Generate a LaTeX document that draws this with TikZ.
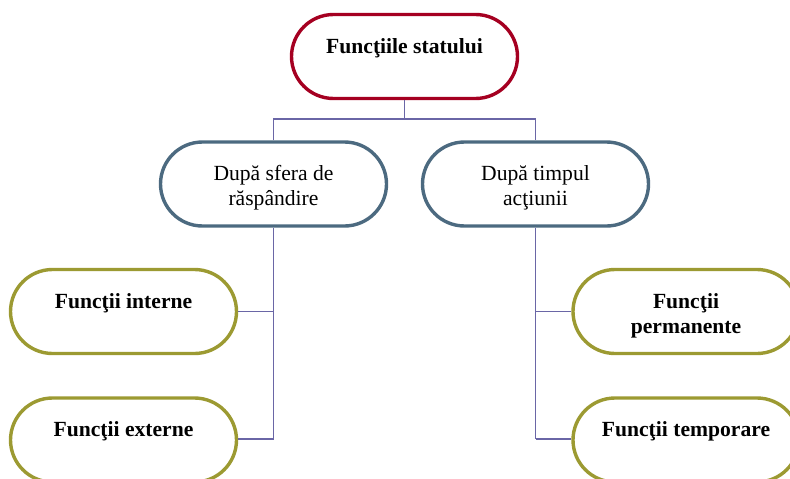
\documentclass[tikz,border=0pt]{standalone}
\usepackage{fontspec}
\setmainfont{Liberation Serif}
\definecolor{topred}{HTML}{A50021}
\definecolor{midblue}{HTML}{4C6A80}
\definecolor{leafolive}{HTML}{9C9A32}
\definecolor{connpurple}{HTML}{6A66A6}
\tikzset{
  pill/.style={draw=#1, line width=3.4pt, rounded corners=42pt, fill=white,
    minimum width=226pt, minimum height=84pt, inner sep=0pt},
  lbl/.style={font=\fontsize{21.6}{25}\selectfont, align=center, anchor=base, inner sep=0pt},
  blbl/.style={lbl, font=\fontsize{21.6}{25}\selectfont\bfseries},
  conn/.style={draw=connpurple, line width=1.1pt}
}
\begin{document}
\begin{tikzpicture}[x=1pt,y=-1pt]
  \useasboundingbox (0,0) rectangle (790,479);
  \clip (0,0) rectangle (790,479);

  % boxes
  \node[pill=topred]    (top)  at (404.5,56.5)  {};
  \node[pill=midblue]   (midL) at (273.5,184)   {};
  \node[pill=midblue]   (midR) at (535.5,184)   {};
  \node[pill=leafolive] (intL) at (123.5,311.5) {};
  \node[pill=leafolive] (extL) at (123.5,440)   {};
  \node[pill=leafolive] (perR) at (686,311.5)   {};
  \node[pill=leafolive] (temR) at (686,440)     {};

  % texts: the first baseline sits just above each box centre
  % (for two-line texts the base anchor is the second line)
  \node[blbl] (topT)  at ([yshift=3pt]top.center)      {Funcţiile statului};
  \node[lbl]  (midLT) at ([yshift=-21.5pt]midL.center) {După sfera de\\răspândire};
  \node[lbl]  (midRT) at ([yshift=-21.5pt]midR.center) {După timpul\\acţiunii};
  \node[blbl] (intLT) at ([yshift=3pt]intL.center)     {Funcţii interne};
  \node[blbl] (extLT) at ([yshift=3.5pt]extL.center)   {Funcţii externe};
  \node[blbl] (perRT) at ([yshift=-22pt]perR.center)   {Funcţii\\permanente};
  \node[blbl] (temRT) at ([yshift=3.5pt]temR.center)   {Funcţii temporare};

  % connectors
  \coordinate (bus) at (404.5,119);
  \draw[conn] (top.south) -- (bus);
  \draw[conn] (midL.north) |- (bus) -| (midR.north);
  \coordinate (trunkL) at (273.5,439);
  \coordinate (trunkR) at (535.5,439);
  \draw[conn] (midL.south) -- (trunkL);
  \draw[conn] (intL.east) -- (intL.east -| trunkL);
  \draw[conn] (extL.east |- trunkL) -- (trunkL);
  \draw[conn] (midR.south) -- (trunkR);
  \draw[conn] (perR.west) -- (perR.west -| trunkR);
  \draw[conn] (temR.west |- trunkR) -- (trunkR);
\end{tikzpicture}
\end{document}
